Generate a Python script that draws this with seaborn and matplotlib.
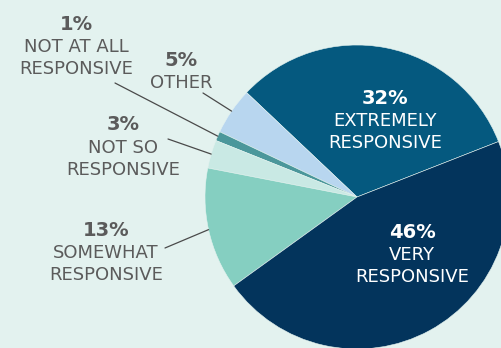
import numpy as np
import seaborn as sns
import matplotlib.pyplot as plt

# Survey shares, counter-clockwise from the "very / extremely" boundary
labels = ["EXTREMELY\nRESPONSIVE", "OTHER", "NOT AT ALL\nRESPONSIVE",
          "NOT SO\nRESPONSIVE", "SOMEWHAT\nRESPONSIVE", "VERY\nRESPONSIVE"]
shares = [32, 5, 1, 3, 13, 46]
colors = ["#05597f", "#b8d6ef", "#4b979b", "#c9e9e4", "#85cfc1", "#03345c"]

# text anchors (pixel coords, y from top) and whether text sits inside the pie
text_pos = [(385, 98), (181, 60), (76, 24), (123, 125), (106, 230), (412, 232)]
inside = [True, False, False, False, False, True]
# outer end of leader line for outside labels
line_start = [None, (203, 93), (115, 83), (168, 139), (165, 248), None]

bg = "#e3f2ef"
grey = "#5b5b5b"

sns.set_theme(style="white", rc={"axes.facecolor": bg, "figure.facecolor": bg})
plt.rcParams["font.family"] = ["DejaVu Sans"]

W, H = 502, 348
fig = plt.figure(figsize=(W / 100, H / 100), dpi=100)
ax = fig.add_axes([0, 0, 1, 1])

cx, cy, r = 357, H - 197, 152
wedges, _ = ax.pie(shares, colors=colors, startangle=21.4, counterclock=True,
                   center=(cx, cy), radius=r, frame=True,
                   wedgeprops=dict(linewidth=0.4, edgecolor=bg))
ax.set_xlim(0, W)
ax.set_ylim(0, H)
ax.axis("off")

for w, lab, val, (tx, ty), ins, ls in zip(wedges, labels, shares, text_pos, inside, line_start):
    c = "white" if ins else grey
    ax.text(tx, H - ty, f"{val}%", ha="center", va="center", fontsize=14,
            fontweight="bold", color=c)
    ax.text(tx, H - ty - 14, lab, ha="center", va="top", fontsize=13,
            color=c, linespacing=1.28)
    if ls is not None:
        mid = np.deg2rad((w.theta1 + w.theta2) / 2)
        ex, ey = cx + r * np.cos(mid), cy + r * np.sin(mid)
        ax.plot([ls[0], ex], [H - ls[1], ey], color="#4a4a4a", lw=0.9)

plt.savefig("out.png", dpi=100, facecolor=bg)
